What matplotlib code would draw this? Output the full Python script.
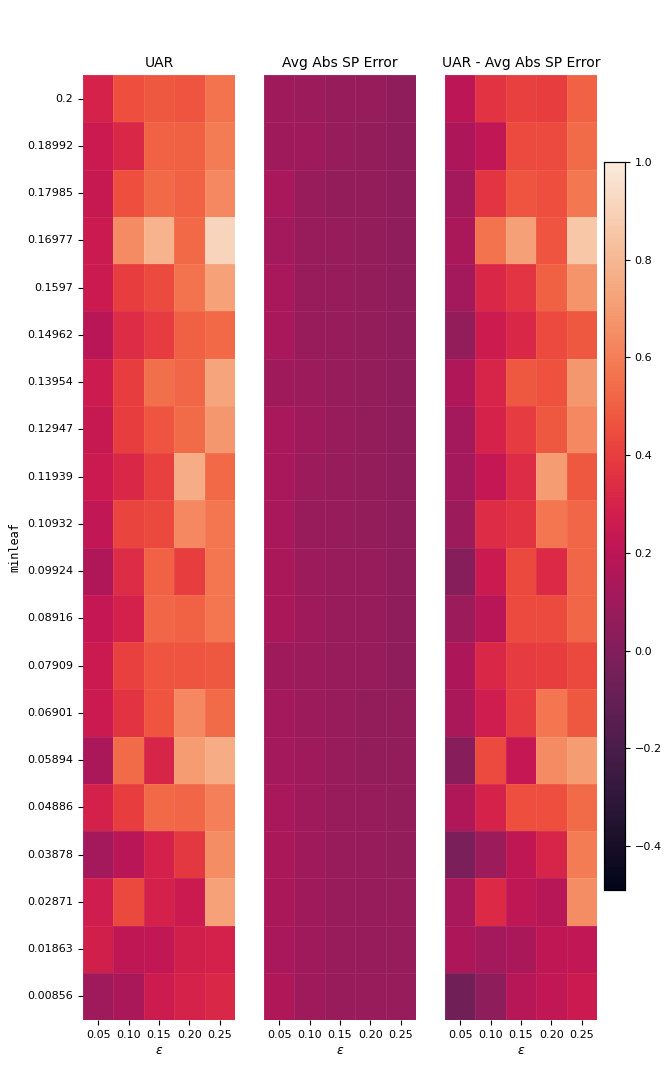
import numpy as np
import matplotlib
matplotlib.use("Agg")
import matplotlib.pyplot as plt
import seaborn as sns

minleaf = ["0.2", "0.18992", "0.17985", "0.16977", "0.1597", "0.14962", "0.13954",
           "0.12947", "0.11939", "0.10932", "0.09924", "0.08916", "0.07909", "0.06901",
           "0.05894", "0.04886", "0.03878", "0.02871", "0.01863", "0.00856"]
epsilon = ["0.05", "0.10", "0.15", "0.20", "0.25"]

uar = np.array([
    [0.30, 0.45, 0.48, 0.47, 0.56],
    [0.25, 0.32, 0.51, 0.50, 0.59],
    [0.24, 0.45, 0.53, 0.51, 0.63],
    [0.25, 0.64, 0.78, 0.53, 0.91],
    [0.25, 0.40, 0.44, 0.56, 0.72],
    [0.19, 0.34, 0.39, 0.50, 0.53],
    [0.26, 0.40, 0.55, 0.52, 0.73],
    [0.24, 0.40, 0.47, 0.54, 0.68],
    [0.25, 0.32, 0.41, 0.76, 0.53],
    [0.22, 0.42, 0.43, 0.63, 0.57],
    [0.155, 0.34, 0.51, 0.40, 0.57],
    [0.23, 0.29, 0.52, 0.51, 0.57],
    [0.25, 0.41, 0.47, 0.47, 0.48],
    [0.25, 0.36, 0.47, 0.63, 0.54],
    [0.14, 0.54, 0.31, 0.70, 0.76],
    [0.29, 0.40, 0.53, 0.52, 0.60],
    [0.11, 0.19, 0.29, 0.38, 0.65],
    [0.27, 0.43, 0.29, 0.25, 0.72],
    [0.28, 0.21, 0.22, 0.28, 0.29],
    [0.10, 0.14, 0.26, 0.30, 0.32],
])

sp_error = np.array([
    [0.10, 0.09, 0.07, 0.07, 0.05],
    [0.10, 0.10, 0.07, 0.06, 0.05],
    [0.13, 0.08, 0.06, 0.06, 0.05],
    [0.11, 0.08, 0.07, 0.06, 0.05],
    [0.13, 0.08, 0.07, 0.06, 0.05],
    [0.13, 0.08, 0.07, 0.06, 0.05],
    [0.10, 0.09, 0.07, 0.06, 0.05],
    [0.13, 0.10, 0.08, 0.06, 0.05],
    [0.13, 0.09, 0.07, 0.06, 0.05],
    [0.13, 0.08, 0.07, 0.06, 0.05],
    [0.14, 0.09, 0.08, 0.07, 0.05],
    [0.14, 0.10, 0.08, 0.07, 0.05],
    [0.10, 0.09, 0.08, 0.07, 0.05],
    [0.11, 0.09, 0.08, 0.06, 0.06],
    [0.12, 0.10, 0.08, 0.06, 0.06],
    [0.13, 0.10, 0.08, 0.07, 0.06],
    [0.14, 0.10, 0.08, 0.07, 0.06],
    [0.14, 0.10, 0.08, 0.07, 0.07],
    [0.13, 0.10, 0.08, 0.07, 0.07],
    [0.16, 0.10, 0.08, 0.08, 0.07],
])

diff = uar - sp_error

titles = ["UAR", "Avg Abs SP Error", "UAR - Avg Abs SP Error"]
datasets = [uar, sp_error, diff]
vmin, vmax = -0.49, 1.0

fig = plt.figure(figsize=(6.64, 10.8), dpi=100)
W, H = 664.0, 1080.0
lefts = [83, 264, 445]
axw = 152
top, bottom = 75, 1020
axes = [fig.add_axes([l / W, 1 - bottom / H, axw / W, (bottom - top) / H]) for l in lefts]
cax = fig.add_axes([604 / W, 1 - 890 / H, 21 / W, (890 - 162) / H])

for i, (ax, data, title) in enumerate(zip(axes, datasets, titles)):
    sns.heatmap(data, ax=ax, cmap="rocket", vmin=vmin, vmax=vmax,
                xticklabels=epsilon, yticklabels=minleaf if i == 0 else False,
                linewidths=0.5, linecolor=(1, 1, 1, 0.07),
                cbar=(i == 2), cbar_ax=cax if i == 2 else None)
    ax.set_title(title, fontsize=10)
    ax.set_xlabel(r"$\epsilon$", fontsize=9, labelpad=3)
    ax.tick_params(axis="x", labelsize=8, rotation=0)
    ax.tick_params(axis="y", labelsize=8, rotation=0)

axes[0].set_ylabel("minleaf", family="DejaVu Sans Mono", fontsize=8.5)
cax.tick_params(labelsize=8)
for s in cax.spines.values():
    s.set_visible(True)
    s.set_linewidth(0.8)

fig.savefig("out.png", dpi=100)
